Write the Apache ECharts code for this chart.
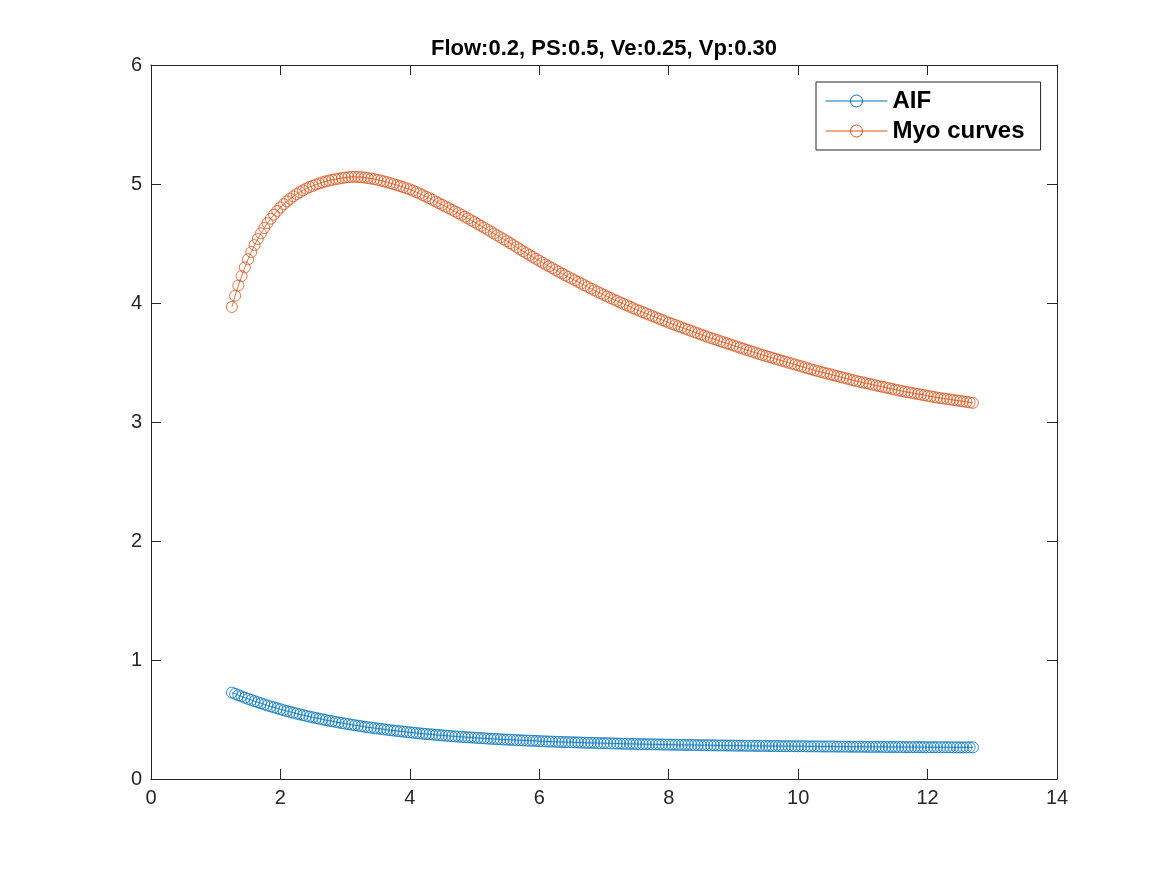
<!DOCTYPE html>
<html>
<head>
<meta charset="utf-8">
<title>Flow:0.2, PS:0.5, Ve:0.25, Vp:0.30</title>
<script src="https://cdn.jsdelivr.net/npm/echarts@6/dist/echarts.min.js"></script>
<style>
  html, body { margin: 0; padding: 0; background: #fff; }
  #main { width: 1167px; height: 875px; }
</style>
</head>
<body>
<div id="main"></div>
<script>
// sample times
var times = [
  1.25,1.30,1.35,1.40,1.45,1.50,1.55,1.60,1.65,1.70,1.75,1.80,1.85,1.90,1.95,
  2.00,2.05,2.10,2.15,2.20,2.25,2.30,2.35,2.40,2.45,2.50,2.55,2.60,2.65,2.70,2.75,2.80,2.85,2.90,2.95,
  3.00,3.05,3.10,3.15,3.20,3.25,3.30,3.35,3.40,3.45,3.50,3.55,3.60,3.65,3.70,3.75,3.80,3.85,3.90,3.95,
  4.00,4.05,4.10,4.15,4.20,4.25,4.30,4.35,4.40,4.45,4.50,4.55,4.60,4.65,4.70,4.75,4.80,4.85,4.90,4.95,
  5.00,5.05,5.10,5.15,5.20,5.25,5.30,5.35,5.40,5.45,5.50,5.55,5.60,5.65,5.70,5.75,5.80,5.85,5.90,5.95,
  6.00,6.05,6.10,6.15,6.20,6.25,6.30,6.35,6.40,6.45,6.50,6.55,6.60,6.65,6.70,6.75,6.80,6.85,6.90,6.95,
  7.00,7.05,7.10,7.15,7.20,7.25,7.30,7.35,7.40,7.45,7.50,7.55,7.60,7.65,7.70,7.75,7.80,7.85,7.90,7.95,
  8.00,8.05,8.10,8.15,8.20,8.25,8.30,8.35,8.40,8.45,8.50,8.55,8.60,8.65,8.70,8.75,8.80,8.85,8.90,8.95,
  9.00,9.05,9.10,9.15,9.20,9.25,9.30,9.35,9.40,9.45,9.50,9.55,9.60,9.65,9.70,9.75,9.80,9.85,9.90,9.95,
  10.00,10.05,10.10,10.15,10.20,10.25,10.30,10.35,10.40,10.45,10.50,10.55,10.60,10.65,10.70,10.75,10.80,10.85,10.90,10.95,
  11.00,11.05,11.10,11.15,11.20,11.25,11.30,11.35,11.40,11.45,11.50,11.55,11.60,11.65,11.70,11.75,11.80,11.85,11.90,11.95,
  12.00,12.05,12.10,12.15,12.20,12.25,12.30,12.35,12.40,12.45,12.50,12.55,12.60,12.65,12.70
];

// AIF curve
var aif = [
  0.726,0.715,0.704,0.694,0.683,0.673,0.664,0.654,0.645,0.636,0.627,0.618,0.610,0.602,0.594,
  0.586,0.578,0.571,0.564,0.557,0.550,0.543,0.537,0.530,0.524,0.518,0.512,0.507,0.501,0.495,0.490,0.485,0.480,0.475,0.470,
  0.465,0.461,0.456,0.452,0.448,0.443,0.439,0.435,0.432,0.428,0.424,0.421,0.417,0.414,0.410,0.407,0.404,0.401,0.398,0.395,
  0.392,0.389,0.386,0.384,0.381,0.378,0.376,0.374,0.371,0.369,0.367,0.364,0.362,0.360,0.358,0.356,0.354,0.352,0.350,0.349,
  0.347,0.345,0.343,0.342,0.340,0.338,0.337,0.335,0.334,0.332,0.331,0.330,0.328,0.327,0.326,0.324,0.323,0.322,0.321,0.320,
  0.318,0.317,0.316,0.315,0.314,0.313,0.312,0.311,0.310,0.309,0.309,0.308,0.307,0.306,0.305,0.304,0.304,0.303,0.302,0.301,
  0.301,0.300,0.299,0.299,0.298,0.297,0.296,0.296,0.295,0.295,0.294,0.293,0.293,0.292,0.292,0.291,0.291,0.290,0.290,0.289,
  0.289,0.288,0.288,0.287,0.287,0.286,0.286,0.286,0.285,0.285,0.284,0.284,0.284,0.283,0.283,0.282,0.282,0.282,0.281,0.281,
  0.281,0.280,0.280,0.280,0.279,0.279,0.279,0.278,0.278,0.278,0.278,0.277,0.277,0.277,0.277,0.276,0.276,0.276,0.276,0.275,
  0.275,0.275,0.275,0.274,0.274,0.274,0.274,0.273,0.273,0.273,0.273,0.273,0.272,0.272,0.272,0.272,0.271,0.271,0.271,0.271,
  0.271,0.270,0.270,0.270,0.270,0.270,0.270,0.269,0.269,0.269,0.269,0.269,0.269,0.268,0.268,0.268,0.268,0.268,0.268,0.268,
  0.267,0.267,0.267,0.267,0.267,0.267,0.267,0.266,0.266,0.266,0.266,0.266,0.266,0.266,0.266
];

// myocardium curve
var myo = [
  3.967,4.061,4.147,4.226,4.299,4.367,4.429,4.486,4.538,4.586,4.630,4.671,4.708,4.743,4.774,
  4.803,4.830,4.854,4.876,4.896,4.915,4.932,4.947,4.961,4.974,4.985,4.996,5.005,5.014,5.022,5.029,5.035,5.040,5.045,5.050,
  5.054,5.057,5.060,5.060,5.059,5.057,5.054,5.050,5.046,5.041,5.035,5.029,5.022,5.015,5.007,4.999,4.991,4.982,4.973,4.964,
  4.955,4.944,4.932,4.920,4.907,4.894,4.881,4.867,4.853,4.839,4.825,4.811,4.797,4.783,4.769,4.755,4.740,4.725,4.710,4.695,
  4.680,4.664,4.648,4.632,4.616,4.600,4.584,4.568,4.552,4.536,4.520,4.503,4.486,4.469,4.452,4.435,4.419,4.403,4.387,4.371,
  4.355,4.339,4.323,4.308,4.293,4.278,4.263,4.248,4.233,4.219,4.205,4.191,4.177,4.163,4.149,4.135,4.121,4.107,4.094,4.081,
  4.068,4.055,4.042,4.029,4.017,4.005,3.993,3.981,3.969,3.957,3.945,3.934,3.923,3.912,3.901,3.890,3.879,3.868,3.857,3.846,
  3.835,3.825,3.815,3.805,3.795,3.785,3.775,3.765,3.755,3.745,3.735,3.725,3.715,3.706,3.697,3.688,3.679,3.670,3.661,3.652,
  3.643,3.634,3.625,3.616,3.607,3.598,3.589,3.580,3.571,3.563,3.555,3.547,3.539,3.531,3.523,3.515,3.507,3.499,3.491,3.483,
  3.475,3.467,3.459,3.451,3.443,3.435,3.428,3.421,3.414,3.407,3.400,3.393,3.386,3.379,3.372,3.365,3.358,3.351,3.344,3.338,
  3.332,3.326,3.320,3.314,3.308,3.302,3.296,3.290,3.284,3.278,3.272,3.266,3.260,3.255,3.250,3.245,3.240,3.235,3.230,3.225,
  3.220,3.215,3.210,3.205,3.201,3.197,3.193,3.189,3.185,3.181,3.177,3.173,3.169,3.165,3.161
];

var seriesNames = ['AIF', 'Myo curves'];
var seriesColors = ['#0072BD', '#D95319'];
var xTicks = [0, 14, 2];   // min, max, interval
var yTicks = [0, 6, 1];

var FONT = '"Liberation Sans", Arial, Helvetica, sans-serif';
var AXIS = '#262626';

function pairs(xs, ys) {
    var arr = [];
    for (var i = 0; i < xs.length; i++) {
        arr.push([xs[i], ys[i]]);
    }
    return arr;
}

function boxAxis(ticks, pos, showLabel) {
    return {
        type: 'value',
        position: pos,
        min: ticks[0],
        max: ticks[1],
        interval: ticks[2],
        axisLine: { show: true, onZero: false, lineStyle: { color: AXIS, width: 1 } },
        axisTick: { show: true, inside: true, length: 10, lineStyle: { color: AXIS, width: 1 } },
        axisLabel: {
            show: showLabel,
            color: AXIS,
            fontSize: 20,
            fontFamily: FONT,
            margin: 9
        },
        splitLine: { show: false }
    };
}

// open circles joined by a thin line, like matlab's '-o'
function curve(name, color, ys) {
    return {
        name: name,
        type: 'line',
        xAxisIndex: 0,
        yAxisIndex: 0,
        symbol: 'circle',
        symbolSize: 11,
        showAllSymbol: true,
        color: color,
        itemStyle: { color: 'rgba(255,255,255,0)', borderColor: color, borderWidth: 0.8 },
        lineStyle: { color: color, width: 0.8 },
        emphasis: { disabled: true },
        data: pairs(times, ys)
    };
}

var myChart = echarts.init(document.getElementById('main'));

var option = {
    animation: false,
    backgroundColor: '#fff',
    title: {
        text: 'Flow:0.2, PS:0.5, Ve:0.25, Vp:0.30',
        left: 604,
        top: 38,
        padding: 0,
        textAlign: 'center',
        textStyle: {
            fontFamily: FONT,
            fontSize: 22,
            fontWeight: 'bold',
            color: '#000'
        }
    },
    legend: {
        orient: 'vertical',
        left: 816,
        top: 82,
        padding: [4, 16, 4, 9],
        itemGap: 0,
        itemWidth: 62,
        itemHeight: 15,
        backgroundColor: '#fff',
        borderColor: AXIS,
        borderWidth: 1,
        borderRadius: 0,
        lineStyle: { width: 1 },
        itemStyle: { borderWidth: 1 },
        data: seriesNames,
        textStyle: {
            fontFamily: FONT,
            fontSize: 24,
            fontWeight: 'bold',
            color: '#000',
            lineHeight: 30
        }
    },
    grid: {
        left: 151,
        right: 110,
        top: 65,
        bottom: 96,
        containLabel: false
    },
    xAxis: [
        boxAxis(xTicks, 'bottom', true),
        boxAxis(xTicks, 'top', false)
    ],
    yAxis: [
        boxAxis(yTicks, 'left', true),
        boxAxis(yTicks, 'right', false)
    ],
    series: [
        curve(seriesNames[0], seriesColors[0], aif),
        curve(seriesNames[1], seriesColors[1], myo)
    ]
};

myChart.setOption(option);
</script>
</body>
</html>
